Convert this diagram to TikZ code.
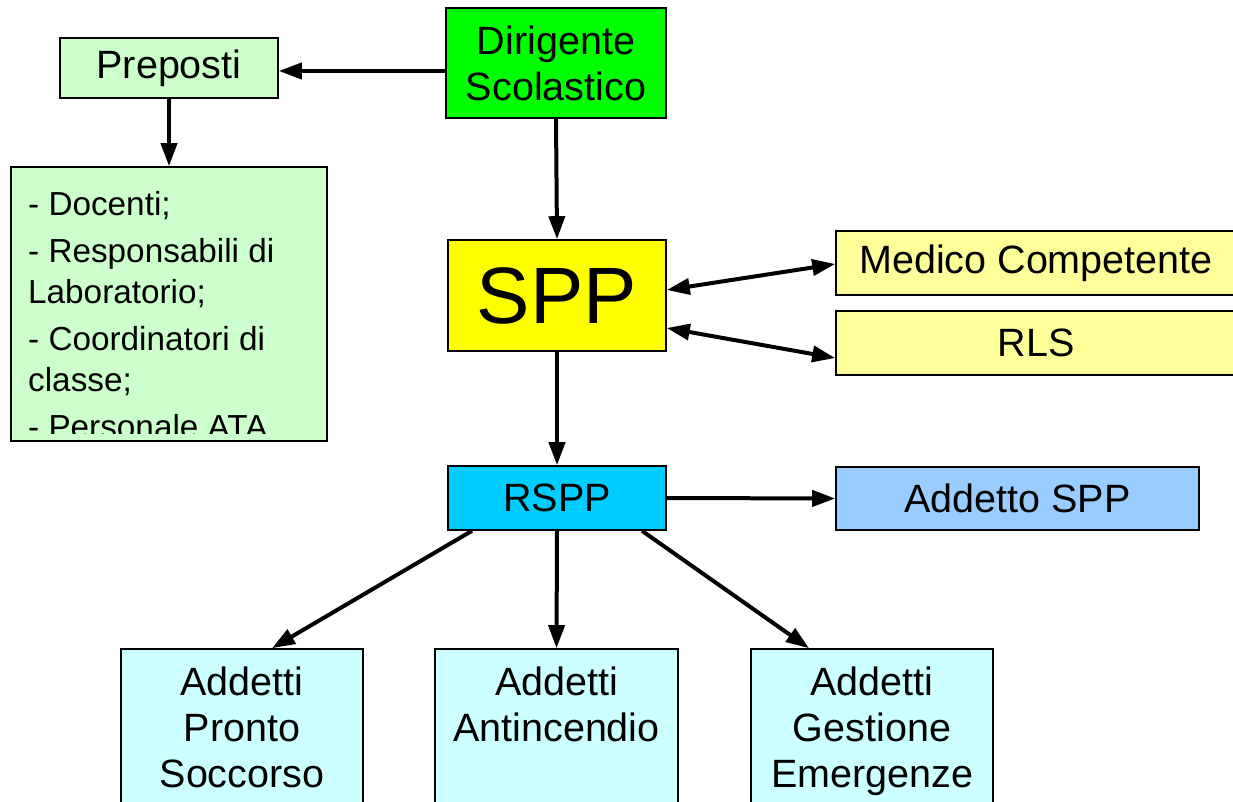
\documentclass[tikz,border=0pt]{standalone}
\usepackage{fontspec}
\setmainfont{Liberation Sans}
\usetikzlibrary{arrows.meta,calc}
\definecolor{cdir}{HTML}{00FF00}
\definecolor{cprep}{HTML}{CCFFCC}
\definecolor{cspp}{HTML}{FFFF00}
\definecolor{cmed}{HTML}{FFFF99}
\definecolor{crspp}{HTML}{00CCFF}
\definecolor{cadd}{HTML}{99CCFF}
\definecolor{cbot}{HTML}{CCFFFF}
\begin{document}
\begin{tikzpicture}[x=1pt,y=-1pt,
  box/.style={draw=black, line width=1.6pt, rectangle, inner sep=0pt, align=center,
    font=\fontsize{39.5}{46}\selectfont},
  listtext/.style={inner sep=0pt, align=left, font=\fontsize{33.3}{41}\selectfont},
  arr/.style={line width=4pt, -{Triangle[length=23pt,width=16pt]}},
  darr/.style={line width=4pt, {Triangle[length=23pt,width=16pt]}-{Triangle[length=23pt,width=16pt]}}]
\useasboundingbox (0,0) rectangle (1233,802);
\fill[white] (0,0) rectangle (1233,802);
\clip (0,0) rectangle (1233,802);

\node[box, fill=cdir, minimum width=220pt, minimum height=110pt] (dir) at (556,63) {Dirigente\\Scolastico};
\node[box, fill=cprep, minimum width=218pt, minimum height=60pt] (prep) at (169,68) {Preposti};
\node[box, fill=cprep, minimum width=316pt, minimum height=274pt] (list) at (169,304) {};
\begin{scope}
  \clip (12,168) rectangle (326,433);
  \node[listtext, anchor=north west] (listtxt) at (28,191) {- Docenti;\\[6pt]- Responsabili di\\Laboratorio;\\[6pt]- Coordinatori di\\classe;\\[6pt]- Personale ATA};
\end{scope}
\node[box, fill=cspp, minimum width=218pt, minimum height=111pt, font=\fontsize{80}{90}\selectfont] (spp) at (557,295.5) {SPP};
\node[box, fill=cmed, minimum width=400pt, minimum height=64pt] (med) at (1036,263) {Medico Competente};
\node[box, fill=cmed, minimum width=400pt, minimum height=64pt] (rls) at (1036,343) {RLS};
\node[box, fill=crspp, minimum width=218pt, minimum height=64pt] (rspp) at (557,498) {RSPP};
\node[box, fill=cadd, minimum width=363pt, minimum height=63pt] (add) at (1017.5,498.5) {Addetto SPP};
\node[box, fill=cbot, minimum width=242pt, minimum height=156pt] (ps) at (242,727) {Addetti\\Pronto\\Soccorso};
\node[box, fill=cbot, minimum width=243pt, minimum height=156pt] (ai) at (556.5,727) {Addetti\\Antincendio\\\phantom{S}};
\node[box, fill=cbot, minimum width=242pt, minimum height=156pt] (ge) at (872,727) {Addetti\\Gestione\\\raisebox{0pt}[\height][0pt]{Emergenze}};

\draw[arr] ([yshift=-8pt]dir.west) -- ([yshift=-8pt]dir.west -| prep.east);
\draw[arr] (prep.south) -- (list.north);
\draw[arr] (dir.south) -- (spp.north);
\draw[darr] ($(spp.east)+(0,-5.5)$) -- ($(med.west)+(0,1)$);
\draw[darr] ($(spp.east)+(0,32.5)$) -- ($(rls.west)+(0,15)$);
\draw[arr] (spp.south) -- (rspp.north);
\draw[arr] (rspp.east) -- (add.west);
\draw[arr] ($(rspp.south)+(-85,0)$) -- ($(ps.north)+(30,0)$);
\draw[arr] (rspp.south) -- (ai.north);
\draw[arr] ($(rspp.south)+(85,0)$) -- ($(ge.north)+(-63,0)$);
\end{tikzpicture}
\end{document}
